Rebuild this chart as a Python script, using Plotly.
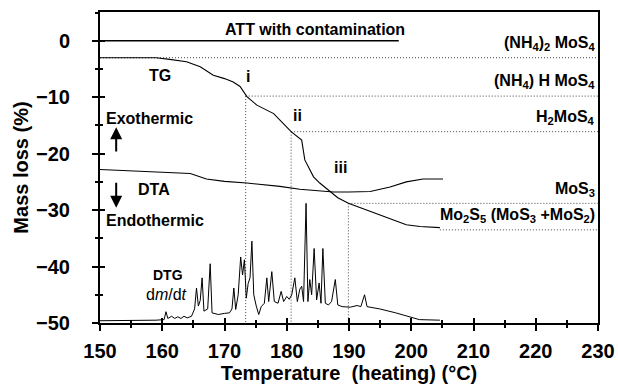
import plotly.graph_objects as go

# ---------------- data ----------------
tg_T = [150, 155, 159, 161.2, 163.9, 166.1, 168.2, 170.0, 171.4, 172.5, 173.6, 175.2, 177.9,
        180.7, 182.4, 182.9, 183.7, 184.3, 185.3, 186.9, 188.2, 189.9, 192.8, 196.0, 199.2,
        201.4, 204.6]
tg_y = [-3.0, -3.0, -3.0, -3.3, -3.7, -4.6, -6.1, -6.7, -7.3, -8.1, -9.9, -11.4, -12.9,
        -16.1, -17.6, -21.1, -22.9, -24.1, -25.2, -26.7, -27.8, -28.8, -30.0, -31.4, -32.6,
        -32.9, -33.1]

dta_T = [150, 155, 160, 164.5, 167.1, 170, 173.6, 178.9, 182.1, 185.3, 187.5, 190, 193.4,
         196.6, 199.2, 201.9, 205.1]
dta_y = [-22.8, -23.0, -23.3, -23.5, -24.5, -24.9, -25.2, -25.8, -26.3, -26.6, -26.8, -26.8,
         -26.7, -25.9, -25.0, -24.5, -24.5]

dtg_T = [150, 155, 159, 160.3, 160.6, 160.9, 161.5, 162, 162.5, 163, 163.5, 164, 164.7,
         165.2, 165.5, 165.8, 166.1, 166.4, 166.7, 167.3, 167.7, 168.0, 169.0, 170.0, 170.8,
         171.2, 171.5, 171.8, 172.2, 172.6, 172.9, 173.2, 173.5, 173.8, 174.1, 174.4, 174.7,
         175.1, 175.5, 175.9, 176.4, 176.8, 177.1, 177.6, 178.0, 178.6, 179.1, 179.5, 180.0,
         180.4, 180.8, 181.3, 181.7, 182.1, 182.4, 182.7, 183.1, 183.4, 183.7, 184.0, 184.4,
         184.8, 185.2, 185.5, 185.8, 186.2, 186.7, 187.2, 187.8, 188.2, 188.9, 190.2, 191.3,
         191.9, 192.5, 192.9, 194.9, 197.5, 199.7, 201.3, 204.6]
dtg_y = [-49.6, -49.6, -49.5, -49.4, -48.0, -49.2, -48.8, -49.2, -48.9, -49.2, -48.8, -49.1, -48.8,
         -47.5, -43.8, -47.0, -46.0, -42.0, -47.9, -47.5, -39.5, -48.2, -48.5, -48.3, -48.2,
         -47.5, -43.8, -47.6, -45.0, -38.3, -41.5, -38.8, -45.6, -43.0, -42.0, -35.5, -45.0,
         -47.0, -48.5, -47.1, -46.5, -42.0, -46.2, -40.9, -46.2, -46.5, -44.4, -46.2, -45.3,
         -45.8, -45.0, -42.0, -46.2, -44.0, -43.5, -46.2, -28.8, -46.2, -42.3, -45.0, -36.8,
         -45.9, -42.9, -46.5, -36.8, -46.5, -46.8, -46.2, -42.3, -46.8, -47.1, -47.2, -46.9,
         -47.1, -45.0, -47.1, -47.5, -48.2, -48.9, -49.4, -49.5]

att_T = [150, 198]
att_y = [0, 0]

level_y = [-3.0, -9.8, -16.1, -28.8, -33.5]
level_start = [150, 173.4, 180.7, 189.9, 204.6]
level_labels = ["(NH<sub>4</sub>)<sub>2</sub> MoS<sub>4</sub>",
                "(NH<sub>4</sub>) H MoS<sub>4</sub>",
                "H<sub>2</sub>MoS<sub>4</sub>",
                "MoS<sub>3</sub>",
                "Mo<sub>2</sub>S<sub>5</sub> (MoS<sub>3</sub> +MoS<sub>2</sub>)"]
trans_T = [173.4, 180.7, 189.9]
trans_y = [-9.8, -16.1, -28.8]
trans_labels = ["i", "ii", "iii"]

x_ticks = [150, 160, 170, 180, 190, 200, 210, 220, 230]
y_ticks = [-50, -40, -30, -20, -10, 0]

FONT = "Liberation Sans, Arial, Helvetica, sans-serif"
BOLD = dict(family=FONT, color="black", weight="bold")

fig = go.Figure()

dot = dict(color="#444", width=1, dash="1px,2px")
for ys, xs in zip(level_y, level_start):
    fig.add_trace(go.Scatter(x=[xs, 230], y=[ys, ys], mode="lines", line=dot,
                             hoverinfo="skip", showlegend=False))
for xt, yt in zip(trans_T, trans_y):
    fig.add_trace(go.Scatter(x=[xt, xt], y=[yt, -50], mode="lines", line=dot,
                             hoverinfo="skip", showlegend=False))

fig.add_trace(go.Scatter(x=att_T, y=att_y, mode="lines", line=dict(color="black", width=1.5),
                         showlegend=False))
fig.add_trace(go.Scatter(x=tg_T, y=tg_y, mode="lines", line=dict(color="black", width=1.1),
                         showlegend=False))
fig.add_trace(go.Scatter(x=dta_T, y=dta_y, mode="lines", line=dict(color="black", width=1.1),
                         showlegend=False))
fig.add_trace(go.Scatter(x=dtg_T, y=dtg_y, mode="lines", line=dict(color="black", width=1),
                         showlegend=False))
# empty trace registering the overlay axes used for the inner half of the ticks
fig.add_trace(go.Scatter(x=[], y=[], xaxis="x2", yaxis="y2", showlegend=False))

ann = []
def txt(x, y, s, size=16, xanchor="center", font=None, **kw):
    f = dict(BOLD, size=size) if font is None else font
    ann.append(dict(x=x, y=y, xref="x", yref="y", text=s, showarrow=False,
                    xanchor=xanchor, yanchor="middle", font=f, **kw))

txt(184.5, 2.0, "ATT with contamination")
for lab, ys in zip(level_labels, level_y):
    txt(230, ys + 2.5, lab, xanchor="right", xshift=-1)
for lab, xt, yt in zip(trans_labels, [173.8, 181.7, 188.6], [-6.4, -13.2, -22.5]):
    txt(xt, yt, lab)
txt(159.6, -6.2, "TG")
txt(158.6, -26.3, "DTA")
txt(150.9, -13.7, "Exothermic", xanchor="left", xshift=-2)
txt(150.9, -31.9, "Endothermic", xanchor="left", xshift=-2)
txt(161.0, -41.5, "DTG",
    font=dict(family="Liberation Sans Narrow, Arial Narrow, " + FONT, size=14, color="black", weight="bold"))
txt(160.7, -45.0, "d<i>m</i>/d<i>t</i>",
    font=dict(family=FONT, size=16, color="black"))

for (y0, y1) in [(-19.9, -15.3), (-24.9, -29.6)]:
    ann.append(dict(x=152.6, y=y1, ax=152.6, ay=y0, xref="x", yref="y", axref="x", ayref="y",
                    text="", showarrow=True, arrowhead=2, arrowsize=1.2, arrowwidth=2,
                    arrowcolor="black"))

fig.update_layout(
    template="none",
    width=618, height=391,
    margin=dict(l=100, r=20, t=12, b=68, autoexpand=False),
    paper_bgcolor="white", plot_bgcolor="white",
    font=dict(family=FONT, color="black"),
    annotations=ann,
    showlegend=False,
    xaxis=dict(range=[150, 230], tickvals=x_ticks, showgrid=False, zeroline=False, automargin=False,
               showline=True, linewidth=2, linecolor="black", mirror=True,
               ticks="outside", ticklen=6, tickwidth=2, tickcolor="black",
               minor=dict(dtick=5, tick0=150, ticks="outside", ticklen=3, tickwidth=2, tickcolor="black"),
               tickfont=dict(BOLD, size=20), ticklabelstandoff=3,
               title=dict(text="Temperature  (heating) (°C)", font=dict(BOLD, size=20), standoff=4)),
    yaxis=dict(range=[-50, 5.1], tickvals=y_ticks, showgrid=False, zeroline=False, automargin=False,
               showline=True, linewidth=2, linecolor="black", mirror=True,
               ticks="outside", ticklen=6, tickwidth=2, tickcolor="black",
               minor=dict(dtick=5, tick0=-50, ticks="outside", ticklen=3, tickwidth=2, tickcolor="black"),
               tickfont=dict(BOLD, size=20), ticklabelstandoff=18,
               title=dict(text="Mass loss (%)", font=dict(BOLD, size=20), standoff=2)),
    xaxis2=dict(overlaying="x", matches="x", anchor="y2", side="bottom", range=[150, 230],
                tickvals=x_ticks, showticklabels=False, showgrid=False, zeroline=False, showline=False,
                ticks="inside", ticklen=5, tickwidth=2, tickcolor="black", automargin=False,
                minor=dict(dtick=5, tick0=150, ticks="inside", ticklen=3, tickwidth=2, tickcolor="black")),
    yaxis2=dict(overlaying="y", matches="y", anchor="x2", side="left", range=[-50, 5.1],
                tickvals=y_ticks, showticklabels=False, showgrid=False, zeroline=False, showline=False,
                ticks="inside", ticklen=5, tickwidth=2, tickcolor="black", automargin=False,
                minor=dict(dtick=5, tick0=-50, ticks="inside", ticklen=3, tickwidth=2, tickcolor="black")),
)

fig.write_html("out.html", config={"displayModeBar": False},
               post_script="document.body.style.margin='0';document.body.style.overflow='hidden';")
